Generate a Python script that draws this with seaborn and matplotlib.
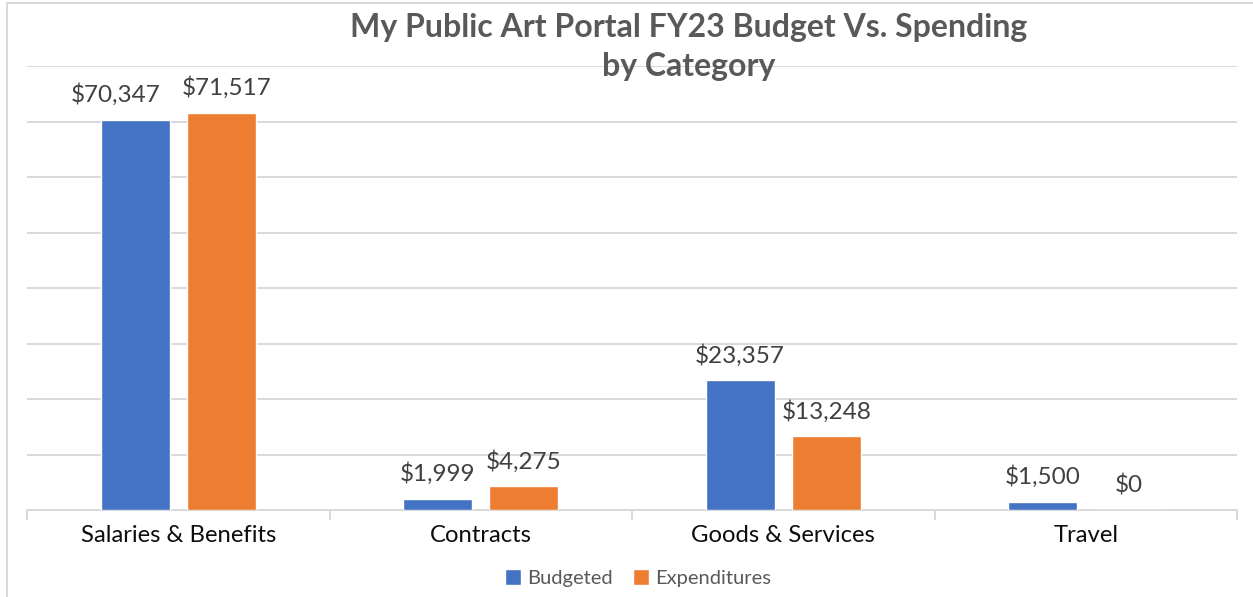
import matplotlib
matplotlib.use("Agg")
import matplotlib.pyplot as plt
import seaborn as sns
import pandas as pd
from matplotlib.lines import Line2D
from matplotlib.ticker import FixedLocator, MultipleLocator

categories = ["Salaries & Benefits", "Contracts", "Goods & Services", "Travel"]
budgeted = [70347, 1999, 23357, 1500]
expenditures = [71517, 4275, 13248, 0]
series_names = ["Budgeted", "Expenditures"]
title = "My Public Art Portal FY23 Budget Vs. Spending\nby Category"

df = pd.DataFrame({
    "Category": categories * 2,
    "Series": [series_names[0]] * len(categories) + [series_names[1]] * len(categories),
    "Value": budgeted + expenditures,
})

sns.set_theme(style="white")
plt.rcParams["font.family"] = ["Lato", "DejaVu Sans"]

W, H = 1253, 597
fig = plt.figure(figsize=(W / 100, H / 100), dpi=100)
ax = fig.add_axes([27 / W, 1 - 510 / H, (1237 - 27) / W, (510 - 66) / H])

sns.barplot(data=df, x="Category", y="Value", hue="Series", order=categories,
            hue_order=series_names, palette=["#4472C4", "#ED7D31"],
            width=0.57, gap=0.2, saturation=1, ax=ax, legend=True, zorder=3)

ax.set_ylim(0, 80000)
ax.set_xlim(-0.5, len(categories) - 0.5)
ax.yaxis.set_major_locator(MultipleLocator(10000))
ax.grid(axis="y", color="#d9d9d9", linewidth=1.4, zorder=0)
ax.set_axisbelow(True)
ax.set_yticklabels([])
ax.tick_params(axis="y", length=0)
ax.set_xlabel("")
ax.set_ylabel("")
for s in ["top", "right", "left"]:
    ax.spines[s].set_visible(False)
ax.spines["bottom"].set_color("#d9d9d9")
ax.spines["bottom"].set_linewidth(1.4)

ax.xaxis.set_minor_locator(FixedLocator([i - 0.5 for i in range(len(categories) + 1)]))
ax.tick_params(axis="x", which="minor", length=7, width=1.4, color="#d9d9d9", bottom=True)
ax.tick_params(axis="x", which="major", length=0, pad=11, labelsize=17.2, labelcolor="#0d0d0d")

# small horizontal nudges (in px) so the tall neighbouring labels don't collide
nudges = [[-20, 0, 0, 0], [5, 0, 0, 0]]
label_pad = 10
for ci, cont in enumerate(ax.containers):
    labels = [f"${v:,.0f}" for v in cont.datavalues]
    texts = ax.bar_label(cont, labels=labels, padding=label_pad, fontsize=17.5, color="#404040")
    for t, dx in zip(texts, nudges[ci]):
        if dx:
            t.xyann = (dx * 0.72, label_pad)

fig.text(689 / W, 1 - 47 / H, title, ha="center", va="center", fontsize=23,
         fontweight="bold", color="#595959", linespacing=1.42)

leg = ax.legend(loc="center", bbox_to_anchor=(0.5 + 6 / 1210, (510 - 578) / (510 - 66)),
                ncol=2, frameon=False, fontsize=14.5, handlelength=0.8, handleheight=0.8,
                handletextpad=0.3, columnspacing=1.0)
for t in leg.get_texts():
    t.set_color("#595959")

# chart frame (top and left edges visible)
fig.add_artist(Line2D([7 / W, 1], [1 - 3 / H, 1 - 3 / H], color="#d9d9d9", linewidth=1.4,
                      transform=fig.transFigure))
fig.add_artist(Line2D([7 / W, 7 / W], [0, 1 - 3 / H], color="#d9d9d9", linewidth=1.4,
                      transform=fig.transFigure))

fig.savefig("out.png", dpi=100, facecolor="white")
